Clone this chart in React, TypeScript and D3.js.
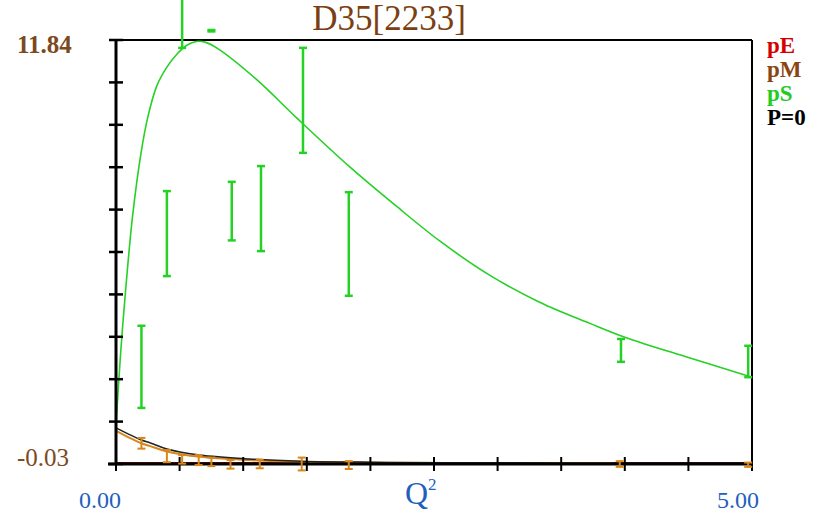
import React from "react";
import * as d3 from "d3";

const W = 819;
const H = 514;

const title = "D35[2233]";
const yMin = -0.03;
const yMax = 11.84;
const xMin = 0;
const xMax = 5;
const xTickStep = 0.5;
const yDivisions = 10;

const legendLabels = ["pE", "pM", "pS", "P=0"];
const legendColors = ["#d40000", "#8b4513", "#22cc22", "#000000"];

// pS data points (green)
const psX = [0.2, 0.4, 0.52, 0.75, 0.91, 1.14, 1.47, 1.83, 3.97, 4.97];
const psY = [2.69, 6.42, 13.4, 12.1, 7.05, 7.12, 10.15, 6.13, 3.15, 2.84];
const psErr = [1.15, 1.19, 1.78, 0.02, 0.82, 1.19, 1.47, 1.45, 0.32, 0.44];

// pM data points (orange)
const pmX = [0.2, 0.4, 0.52, 0.65, 0.75, 0.9, 1.13, 1.46, 1.83, 3.96, 4.97];
const pmY = [0.55, 0.19, 0.1, 0.08, 0.03, -0.04, -0.03, -0.03, -0.06, -0.03, -0.05];
const pmErr = [0.15, 0.17, 0.12, 0.14, 0.12, 0.12, 0.12, 0.18, 0.11, 0.08, 0.06];

// pS fit curve
const psCurveX = [0, 0.035, 0.071, 0.13, 0.197, 0.25, 0.32, 0.4, 0.48, 0.56, 0.63, 0.7, 0.8, 1.1, 1.42, 1.84, 2.2, 2.55, 2.94, 3.33, 3.73, 4.0, 4.5, 5.0];
const psCurveY = [1.06, 3.0, 4.64, 6.9, 8.68, 9.68, 10.55, 11.08, 11.45, 11.7, 11.8, 11.78, 11.6, 10.75, 9.66, 8.28, 7.2, 6.2, 5.25, 4.5, 3.9, 3.52, 2.95, 2.4];

// P=0 curve (black)
const p0CurveX = [0, 0.2, 0.27, 0.4, 0.66, 1.05, 1.46, 2.0, 2.6, 3.5, 5.0];
const p0CurveY = [0.98, 0.64, 0.56, 0.39, 0.22, 0.11, 0.05, 0.02, 0.005, 0.0, 0.0];

// pM curve (orange-brown)
const pmCurveX = [0, 0.2, 0.27, 0.4, 0.66, 1.05, 1.46, 2.0, 2.6, 3.9];
const pmCurveY = [0.9, 0.55, 0.47, 0.32, 0.17, 0.08, 0.03, 0.01, 0.0, 0.0];

// pE curve (dark red)
const peCurveX = [0, 1, 2, 3, 4, 5];
const peCurveY = [0, 0, 0, 0, 0, 0];

const M = { left: 116, right: 752, top: 40, bottom: 464 };

export default function App() {
  const x = d3.scaleLinear().domain([xMin, xMax]).range([M.left, M.right]);
  const y = d3.scaleLinear().domain([yMin, yMax]).range([M.bottom, M.top]);

  const xTicks = d3.range(xMin, xMax + 1e-9, xTickStep);
  const yTicks = d3.range(yDivisions + 1).map((i) => yMin + (i * (yMax - yMin)) / yDivisions);

  const line = d3
    .line<[number, number]>()
    .x((d) => x(d[0]))
    .y((d) => y(d[1]))
    .curve(d3.curveCatmullRom.alpha(0.5));

  const zip = (a: number[], b: number[]) => a.map((v, i) => [v, b[i]] as [number, number]);

  const green = "#26d126";
  const orange = "#d9861a";
  const capW = 4;

  const errBars = (xs: number[], ys: number[], es: number[], color: string, sw: number, key: string) =>
    xs.map((xv, i) => {
      const cx = x(xv);
      const y1 = y(ys[i] + es[i]);
      const y2 = y(ys[i] - es[i]);
      return (
        <g key={key + i} stroke={color} strokeWidth={sw}>
          <line x1={cx} x2={cx} y1={y1} y2={y2} />
          <line x1={cx - capW} x2={cx + capW} y1={y1} y2={y1} />
          <line x1={cx - capW} x2={cx + capW} y1={y2} y2={y2} />
        </g>
      );
    });

  return (
    <svg
      width={W}
      height={H}
      style={{ position: "absolute", left: 0, top: 0, background: "#fff" }}
      fontFamily="'Liberation Serif', 'DejaVu Serif', serif"
    >
      <rect x={0} y={0} width={W} height={H} fill="#fff" />
      {/* frame */}
      <line x1={M.left} x2={M.right} y1={M.top} y2={M.top} stroke="#000" strokeWidth={2} />
      <line x1={M.right} x2={M.right} y1={M.top} y2={M.bottom} stroke="#000" strokeWidth={2} />
      {/* curves */}
      <path d={line(zip(peCurveX, peCurveY)) || ""} fill="none" stroke="#7a0a0a" strokeWidth={2} />
      <path d={line(zip(pmCurveX, pmCurveY)) || ""} fill="none" stroke={orange} strokeWidth={2} />
      <path d={line(zip(p0CurveX, p0CurveY)) || ""} fill="none" stroke="#222" strokeWidth={1.5} />
      <path d={line(zip(psCurveX, psCurveY)) || ""} fill="none" stroke={green} strokeWidth={1.6} />
      {/* axes */}
      <line x1={M.left} x2={M.left} y1={M.top} y2={M.bottom + 1} stroke="#000" strokeWidth={3} />
      <line x1={M.left - 8} x2={M.right} y1={M.bottom} y2={M.bottom} stroke="#000" strokeWidth={3} />
      {yTicks.map((t, i) => (
        <line key={"yt" + i} x1={M.left - 7} x2={M.left + 7} y1={y(t)} y2={y(t)} stroke="#000" strokeWidth={2.5} />
      ))}
      {xTicks.map((t, i) => (
        <line key={"xt" + i} x1={x(t)} x2={x(t)} y1={M.bottom - 7} y2={M.bottom + 7} stroke="#000" strokeWidth={2} />
      ))}
      {/* error bars */}
      {errBars(pmX, pmY, pmErr, orange, 2, "pm")}
      {errBars(psX, psY, psErr, green, 2.5, "ps")}
      {/* title */}
      <text x={389} y={30} textAnchor="middle" fontSize={35} fill="#7b3f12">
        {title}
      </text>
      {/* y labels */}
      <text x={17} y={53} fontSize={25} fontWeight="bold" fill="#7b4a1e">
        {yMax.toFixed(2)}
      </text>
      <text x={17} y={466} fontSize={25} fill="#7b4a1e">
        {yMin.toFixed(2)}
      </text>
      {/* x labels */}
      <text x={x(xMin) - 16} y={508} textAnchor="middle" fontSize={24} fill="#1f5fbf">
        {xMin.toFixed(2)}
      </text>
      <text x={x(xMax) - 14} y={508} textAnchor="middle" fontSize={24} fill="#1f5fbf">
        {xMax.toFixed(2)}
      </text>
      <text x={405} y={504} fontSize={32} fill="#1f5fbf">
        Q<tspan fontSize={17} dy={-14}>2</tspan>
      </text>
      {/* legend */}
      {legendLabels.map((l, i) => (
        <text key={l} x={767} y={53 + i * 24} fontSize={23} fontWeight="bold" fill={legendColors[i]}>
          {l}
        </text>
      ))}
    </svg>
  );
}
